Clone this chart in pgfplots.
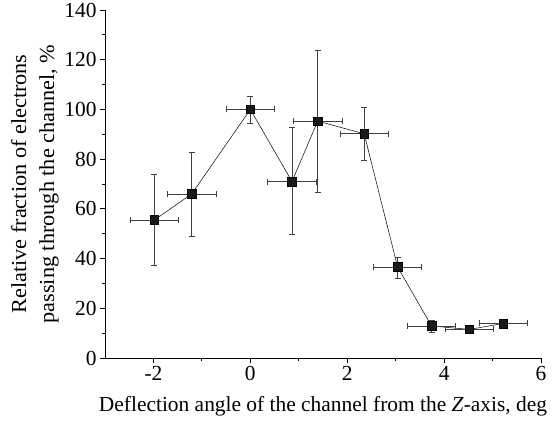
\documentclass[border=0pt]{standalone}
\usepackage{pgfplots}
\pgfplotsset{compat=1.18}
\usepackage{pgfplotstable}
\usepackage{fontspec}
\setmainfont{Liberation Serif}

\pgfplotstableread{
x     y     ex   eyp   eym
-1.98 55.5  0.5  18.2  18.3
-1.21 66.0  0.5  16.8  17.2
0.00  100.0 0.5  5.2   5.6
0.86  71.0  0.5  21.6  21.3
1.39  95.3  0.5  28.3  28.6
2.35  90.2  0.5  10.5  10.5
3.04  36.6  0.5  4.0   4.6
3.74  12.9  0.5  2.2   2.6
4.52  11.5  0.5  0.8   0.8
5.22  13.9  0.5  0.6   0.6
}\datatable

\begin{document}
\begin{tikzpicture}
\begin{axis}[
    name=ax,
    scale only axis,
    width=436bp,
    height=348bp,
    xmin=-3, xmax=6,
    ymin=0, ymax=140,
    axis x line=bottom,
    axis y line=left,
    axis line style={-, line width=0.9pt},
    tick align=outside,
    xtick={-2,0,...,6},
    ytick={0,20,...,140},
    minor x tick num=1,
    minor y tick num=1,
    major tick length=5bp,
    minor tick length=3bp,
    every tick/.style={black, line width=0.8pt},
    /pgf/number format/assume math mode=true,
    tick label style={font=\fontsize{21.5}{24}\selectfont},
    label style={font=\fontsize{21.5}{28}\selectfont},
    xlabel={Deflection angle of the channel from the \textit{Z}-axis, deg},
    ylabel={Relative fraction of electrons\\passing through the channel, \%},
    ylabel style={align=center, xscale=1.04, at={(axis description cs:-0.098,0.5)}, anchor=south},
    xlabel style={at={(axis description cs:0.5,-0.155)}, anchor=base},
    clip=false,
]
\addplot[
    black, line width=0.5pt,
    mark=square*, mark size=4.3bp, mark options={fill=black!90},
    error bars/.cd,
      x dir=both, x explicit,
      y dir=both, y explicit,
      error bar style={black!75, line width=0.7pt},
      error mark options={rotate=90, mark size=3bp, black!75, line width=0.7pt},
] table[
    x=x, y=y,
    x error=ex,
    y error plus=eyp, y error minus=eym,
] {\datatable};
\end{axis}
\pgfresetboundingbox
\path ([xshift=-105bp,yshift=-62bp]ax.south west) rectangle ([xshift=14bp,yshift=10bp]ax.north east);
\end{tikzpicture}
\end{document}
